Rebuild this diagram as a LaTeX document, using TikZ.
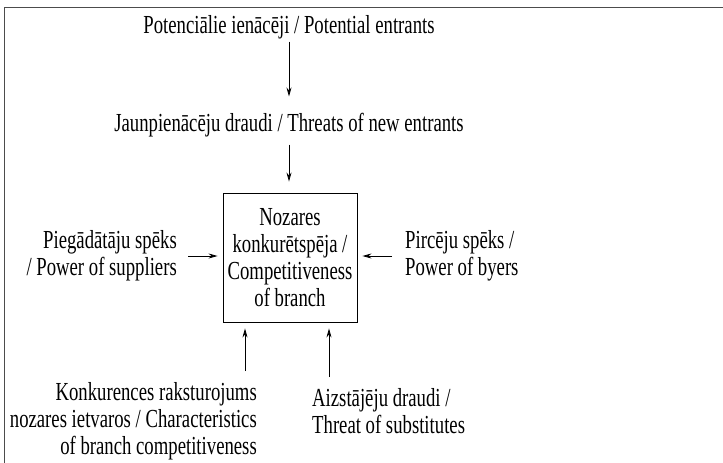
\documentclass[tikz,border=0pt]{standalone}
\usepackage{fontspec}
\setmainfont{Liberation Serif}[FakeStretch=0.72]
\usetikzlibrary{arrows.meta,positioning,calc}

\begin{document}
\begin{tikzpicture}[
    x=1pt, y=-1pt,
    txt/.style={font=\fontsize{26}{27}\selectfont, inner sep=0pt},
    box/.style={txt, draw, line width=0.9pt, minimum width=134pt, minimum height=129pt, align=center},
    arr/.style={-{Stealth[length=9pt,width=5pt]}, line width=0.8pt}
]
    \useasboundingbox (0,0) rectangle (723,463);
    % Frame
    \draw[line width=1pt, black!70] (4,463) -- (4,7) -- (723,7);

    % Centre
    \node[box] (branch) at (290,257.5) {Nozares\\konkurētspēja /\\Competitiveness\\of branch};

    % Top
    \node[txt, anchor=base] (entrants) at (289,33) {Potenciālie ienācēji / Potential entrants};
    \node[txt, anchor=base] (threat) at (289,131) {Jaunpienācēju draudi / Threats of new entrants};

    % Sides
    \node[txt, align=right, anchor=east] (suppliers) at (177,256) {Piegādātāju spēks\\/ Power of suppliers};
    \node[txt, align=left, anchor=west] (buyers) at (405,256) {Pircēju spēks /\\Power of byers};

    % Bottom
    \node[txt, align=right, anchor=east] (rivalry) at (257,421) {Konkurences raksturojums\\nozares ietvaros / Characteristics\\of branch competitiveness};
    \node[txt, align=left, anchor=west] (substitutes) at (312,411) {Aizstājēju draudi /\\Threat of substitutes};

    % Edges
    \draw[arr] ([yshift=-3pt]entrants.south) -- ([yshift=16pt]threat.north);
    \draw[arr] ([yshift=-8pt]threat.south) -- ($(threat.south |- branch.north)+(0,-11)$);
    \draw[arr] ([xshift=11pt]suppliers.east) -- ($(suppliers.east -| branch.west)+(-5,0)$);
    \draw[arr] ([xshift=-13pt]buyers.west) -- ($(buyers.west -| branch.east)+(5,0)$);
    \coordinate (c1) at ([xshift=-45pt]branch.south);
    \coordinate (c2) at ([xshift=39pt]branch.south);
    \draw[arr] ($(rivalry.north -| c1)+(0,-11)$) -- ([yshift=-6pt]c1);
    \draw[arr] ($(substitutes.north -| c2)+(0,-11)$) -- ([yshift=-6pt]c2);
\end{tikzpicture}
\end{document}
